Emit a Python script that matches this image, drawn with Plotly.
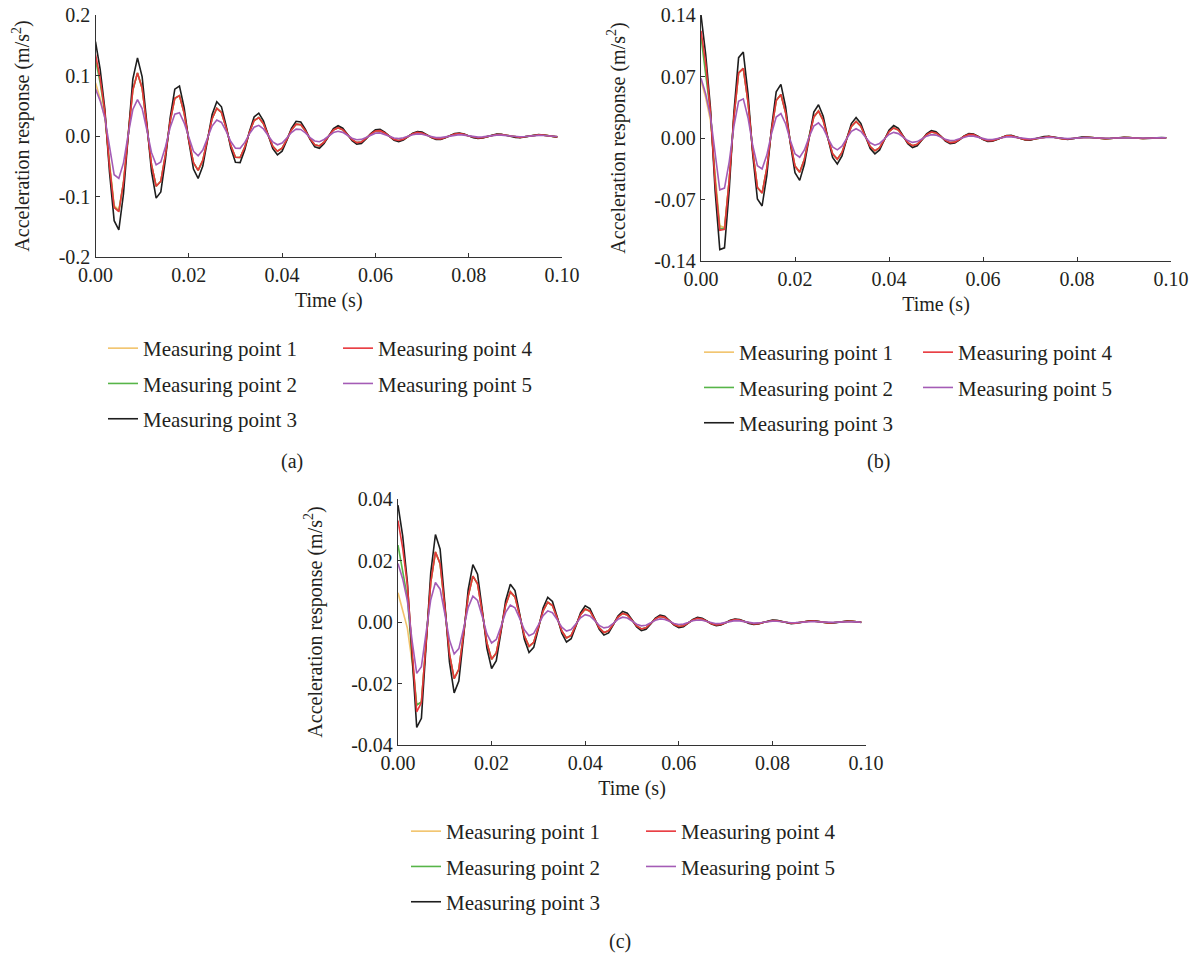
import plotly.graph_objects as go

# ---------------- data ----------------
time_s = [k / 1000 for k in range(100)]  # sampling grid, 1 ms

series_names = ["Measuring point 1", "Measuring point 2", "Measuring point 3",
                "Measuring point 4", "Measuring point 5"]
series_colors = ["#f2c36b", "#57b548", "#1e1e1e", "#e8363b", "#a45cb6"]

# ---- panel (a) ----
a_mp1 = [0.088, 0.062, 0.030, -0.045, -0.115, -0.122, -0.0772, 0.0041, 0.0761, 0.1043,
         0.0790, 0.0173, -0.0473, -0.0830, -0.0748, -0.0308, 0.0243, 0.0625, 0.0668, 0.0380,
         -0.0068, -0.0442, -0.0567, -0.0403, -0.0057, 0.0286, 0.0458, 0.0390, 0.0138, -0.0159,
         -0.0351, -0.0355, -0.0184, 0.0061, 0.0255, 0.0306, 0.0203, 0.0010, -0.0170, -0.0251,
         -0.0202, -0.0059, 0.0101, 0.0196, 0.0187, 0.0088, -0.0046, -0.0145, -0.0164, -0.0101,
         0.0005, 0.0100, 0.0137, 0.0104, 0.0023, -0.0062, -0.0109, -0.0098, -0.0040, 0.0032,
         0.0082, 0.0088, 0.0050, -0.0009, -0.0058, -0.0075, -0.0053, -0.0008, 0.0038, 0.0060,
         0.0051, 0.0018, -0.0021, -0.0046, -0.0047, -0.0024, 0.0008, 0.0033, 0.0040, 0.0027,
         0.0001, -0.0022, -0.0033, -0.0027, -0.0008, 0.0013, 0.0026, 0.0025, 0.0012, -0.0006,
         -0.0019, -0.0022, -0.0013, 0.0001, 0.0013, 0.0018, 0.0014, 0.0003, -0.0008, -0.0014]
a_mp2 = [0.126, 0.088, 0.038, -0.048, -0.118, -0.124, -0.0772, 0.0041, 0.0761, 0.1043,
         0.0790, 0.0173, -0.0473, -0.0830, -0.0748, -0.0308, 0.0243, 0.0625, 0.0668, 0.0380,
         -0.0068, -0.0442, -0.0567, -0.0403, -0.0057, 0.0286, 0.0458, 0.0390, 0.0138, -0.0159,
         -0.0351, -0.0355, -0.0184, 0.0061, 0.0255, 0.0306, 0.0203, 0.0010, -0.0170, -0.0251,
         -0.0202, -0.0059, 0.0101, 0.0196, 0.0187, 0.0088, -0.0046, -0.0145, -0.0164, -0.0101,
         0.0005, 0.0100, 0.0137, 0.0104, 0.0023, -0.0062, -0.0109, -0.0098, -0.0040, 0.0032,
         0.0082, 0.0088, 0.0050, -0.0009, -0.0058, -0.0075, -0.0053, -0.0008, 0.0038, 0.0060,
         0.0051, 0.0018, -0.0021, -0.0046, -0.0047, -0.0024, 0.0008, 0.0033, 0.0040, 0.0027,
         0.0001, -0.0022, -0.0033, -0.0027, -0.0008, 0.0013, 0.0026, 0.0025, 0.0012, -0.0006,
         -0.0019, -0.0022, -0.0013, 0.0001, 0.0013, 0.0018, 0.0014, 0.0003, -0.0008, -0.0014]
a_mp3 = [0.156, 0.110, 0.045, -0.060, -0.140, -0.155, -0.0955, 0.0051, 0.0942, 0.1291,
         0.0978, 0.0214, -0.0585, -0.1027, -0.0925, -0.0381, 0.0301, 0.0774, 0.0826, 0.0470,
         -0.0084, -0.0547, -0.0701, -0.0498, -0.0070, 0.0354, 0.0567, 0.0483, 0.0171, -0.0197,
         -0.0435, -0.0439, -0.0228, 0.0075, 0.0315, 0.0378, 0.0251, 0.0013, -0.0210, -0.0311,
         -0.0250, -0.0072, 0.0125, 0.0243, 0.0232, 0.0108, -0.0057, -0.0180, -0.0203, -0.0126,
         0.0007, 0.0124, 0.0170, 0.0129, 0.0028, -0.0077, -0.0135, -0.0122, -0.0050, 0.0040,
         0.0102, 0.0109, 0.0062, -0.0011, -0.0072, -0.0092, -0.0066, -0.0009, 0.0047, 0.0075,
         0.0064, 0.0022, -0.0026, -0.0057, -0.0058, -0.0030, 0.0010, 0.0041, 0.0050, 0.0033,
         0.0002, -0.0028, -0.0041, -0.0033, -0.0010, 0.0016, 0.0032, 0.0030, 0.0014, -0.0008,
         -0.0024, -0.0027, -0.0016, 0.0001, 0.0016, 0.0022, 0.0017, 0.0004, -0.0010, -0.0018]
a_mp4 = [0.135, 0.095, 0.040, -0.050, -0.118, -0.125, -0.0772, 0.0041, 0.0761, 0.1043,
         0.0790, 0.0173, -0.0473, -0.0830, -0.0748, -0.0308, 0.0243, 0.0625, 0.0668, 0.0380,
         -0.0068, -0.0442, -0.0567, -0.0403, -0.0057, 0.0286, 0.0458, 0.0390, 0.0138, -0.0159,
         -0.0351, -0.0355, -0.0184, 0.0061, 0.0255, 0.0306, 0.0203, 0.0010, -0.0170, -0.0251,
         -0.0202, -0.0059, 0.0101, 0.0196, 0.0187, 0.0088, -0.0046, -0.0145, -0.0164, -0.0101,
         0.0005, 0.0100, 0.0137, 0.0104, 0.0023, -0.0062, -0.0109, -0.0098, -0.0040, 0.0032,
         0.0082, 0.0088, 0.0050, -0.0009, -0.0058, -0.0075, -0.0053, -0.0008, 0.0038, 0.0060,
         0.0051, 0.0018, -0.0021, -0.0046, -0.0047, -0.0024, 0.0008, 0.0033, 0.0040, 0.0027,
         0.0001, -0.0022, -0.0033, -0.0027, -0.0008, 0.0013, 0.0026, 0.0025, 0.0012, -0.0006,
         -0.0019, -0.0022, -0.0013, 0.0001, 0.0013, 0.0018, 0.0014, 0.0003, -0.0008, -0.0014]
a_mp5 = [0.078, 0.058, 0.030, -0.018, -0.064, -0.070, -0.0444, 0.0024, 0.0438, 0.0600,
         0.0454, 0.0100, -0.0272, -0.0477, -0.0430, -0.0177, 0.0140, 0.0360, 0.0384, 0.0218,
         -0.0039, -0.0254, -0.0326, -0.0232, -0.0033, 0.0164, 0.0263, 0.0224, 0.0079, -0.0092,
         -0.0202, -0.0204, -0.0106, 0.0035, 0.0146, 0.0176, 0.0117, 0.0006, -0.0098, -0.0145,
         -0.0116, -0.0034, 0.0058, 0.0113, 0.0108, 0.0050, -0.0027, -0.0083, -0.0094, -0.0058,
         0.0003, 0.0058, 0.0079, 0.0060, 0.0013, -0.0036, -0.0063, -0.0056, -0.0023, 0.0018,
         0.0047, 0.0051, 0.0029, -0.0005, -0.0033, -0.0043, -0.0030, -0.0004, 0.0022, 0.0035,
         0.0030, 0.0010, -0.0012, -0.0027, -0.0027, -0.0014, 0.0005, 0.0019, 0.0023, 0.0015,
         0.0001, -0.0013, -0.0019, -0.0015, -0.0004, 0.0008, 0.0015, 0.0014, 0.0007, -0.0003,
         -0.0011, -0.0012, -0.0008, 0.0000, 0.0008, 0.0010, 0.0008, 0.0002, -0.0005, -0.0008]

# ---- panel (b) ----
b_mp1 = [0.065, 0.046, 0.020, -0.045, -0.100, -0.102, -0.0482, 0.0234, 0.0742, 0.0792,
         0.0411, -0.0148, -0.0563, -0.0627, -0.0347, 0.0088, 0.0426, 0.0495, 0.0290, -0.0047,
         -0.0320, -0.0390, -0.0242, 0.0020, 0.0240, 0.0307, 0.0200, -0.0002, -0.0179, -0.0240,
         -0.0165, -0.0009, 0.0133, 0.0188, 0.0135, 0.0016, -0.0098, -0.0146, -0.0110, -0.0019,
         0.0072, 0.0114, 0.0090, 0.0020, -0.0052, -0.0088, -0.0072, -0.0019, 0.0038, 0.0068,
         0.0058, 0.0018, -0.0027, -0.0053, -0.0047, -0.0017, 0.0019, 0.0041, 0.0038, 0.0015,
         -0.0013, -0.0031, -0.0030, -0.0013, 0.0009, 0.0024, 0.0024, 0.0011, -0.0006, -0.0018,
         -0.0019, -0.0010, 0.0004, 0.0014, 0.0015, 0.0008, -0.0002, -0.0010, -0.0012, -0.0007,
         0.0001, 0.0008, 0.0009, 0.0006, -0.0001, -0.0006, -0.0007, -0.0005, 0.0000, 0.0005,
         0.0006, 0.0004, 0.0000, -0.0003, -0.0005, -0.0003, 0.0000, 0.0002, 0.0004, 0.0003]
b_mp2 = [0.115, 0.075, 0.030, -0.048, -0.103, -0.103, -0.0482, 0.0234, 0.0742, 0.0792,
         0.0411, -0.0148, -0.0563, -0.0627, -0.0347, 0.0088, 0.0426, 0.0495, 0.0290, -0.0047,
         -0.0320, -0.0390, -0.0242, 0.0020, 0.0240, 0.0307, 0.0200, -0.0002, -0.0179, -0.0240,
         -0.0165, -0.0009, 0.0133, 0.0188, 0.0135, 0.0016, -0.0098, -0.0146, -0.0110, -0.0019,
         0.0072, 0.0114, 0.0090, 0.0020, -0.0052, -0.0088, -0.0072, -0.0019, 0.0038, 0.0068,
         0.0058, 0.0018, -0.0027, -0.0053, -0.0047, -0.0017, 0.0019, 0.0041, 0.0038, 0.0015,
         -0.0013, -0.0031, -0.0030, -0.0013, 0.0009, 0.0024, 0.0024, 0.0011, -0.0006, -0.0018,
         -0.0019, -0.0010, 0.0004, 0.0014, 0.0015, 0.0008, -0.0002, -0.0010, -0.0012, -0.0007,
         0.0001, 0.0008, 0.0009, 0.0006, -0.0001, -0.0006, -0.0007, -0.0005, 0.0000, 0.0005,
         0.0006, 0.0004, 0.0000, -0.0003, -0.0005, -0.0003, 0.0000, 0.0002, 0.0004, 0.0003]
b_mp3 = [0.140, 0.095, 0.035, -0.060, -0.127, -0.125, -0.0595, 0.0289, 0.0915, 0.0978,
         0.0507, -0.0183, -0.0694, -0.0774, -0.0428, 0.0109, 0.0525, 0.0611, 0.0358, -0.0058,
         -0.0395, -0.0482, -0.0299, 0.0024, 0.0296, 0.0378, 0.0247, -0.0002, -0.0222, -0.0296,
         -0.0203, -0.0011, 0.0164, 0.0232, 0.0167, 0.0019, -0.0121, -0.0181, -0.0136, -0.0023,
         0.0089, 0.0141, 0.0110, 0.0025, -0.0065, -0.0109, -0.0089, -0.0024, 0.0047, 0.0084,
         0.0072, 0.0022, -0.0034, -0.0065, -0.0058, -0.0021, 0.0024, 0.0050, 0.0046, 0.0018,
         -0.0017, -0.0038, -0.0037, -0.0016, 0.0011, 0.0029, 0.0030, 0.0014, -0.0007, -0.0022,
         -0.0024, -0.0012, 0.0005, 0.0017, 0.0019, 0.0010, -0.0003, -0.0013, -0.0015, -0.0009,
         0.0002, 0.0010, 0.0012, 0.0007, -0.0001, -0.0007, -0.0009, -0.0006, 0.0000, 0.0006,
         0.0007, 0.0005, 0.0000, -0.0004, -0.0006, -0.0004, 0.0000, 0.0003, 0.0004, 0.0003]
b_mp4 = [0.122, 0.085, 0.030, -0.050, -0.105, -0.104, -0.0482, 0.0234, 0.0742, 0.0792,
         0.0411, -0.0148, -0.0563, -0.0627, -0.0347, 0.0088, 0.0426, 0.0495, 0.0290, -0.0047,
         -0.0320, -0.0390, -0.0242, 0.0020, 0.0240, 0.0307, 0.0200, -0.0002, -0.0179, -0.0240,
         -0.0165, -0.0009, 0.0133, 0.0188, 0.0135, 0.0016, -0.0098, -0.0146, -0.0110, -0.0019,
         0.0072, 0.0114, 0.0090, 0.0020, -0.0052, -0.0088, -0.0072, -0.0019, 0.0038, 0.0068,
         0.0058, 0.0018, -0.0027, -0.0053, -0.0047, -0.0017, 0.0019, 0.0041, 0.0038, 0.0015,
         -0.0013, -0.0031, -0.0030, -0.0013, 0.0009, 0.0024, 0.0024, 0.0011, -0.0006, -0.0018,
         -0.0019, -0.0010, 0.0004, 0.0014, 0.0015, 0.0008, -0.0002, -0.0010, -0.0012, -0.0007,
         0.0001, 0.0008, 0.0009, 0.0006, -0.0001, -0.0006, -0.0007, -0.0005, 0.0000, 0.0005,
         0.0006, 0.0004, 0.0000, -0.0003, -0.0005, -0.0003, 0.0000, 0.0002, 0.0004, 0.0003]
b_mp5 = [0.068, 0.050, 0.025, -0.020, -0.059, -0.057, -0.0271, 0.0132, 0.0417, 0.0445,
         0.0231, -0.0083, -0.0316, -0.0352, -0.0195, 0.0049, 0.0239, 0.0278, 0.0163, -0.0027,
         -0.0180, -0.0219, -0.0136, 0.0011, 0.0135, 0.0172, 0.0112, -0.0001, -0.0101, -0.0135,
         -0.0093, -0.0005, 0.0075, 0.0105, 0.0076, 0.0009, -0.0055, -0.0082, -0.0062, -0.0011,
         0.0041, 0.0064, 0.0050, 0.0011, -0.0029, -0.0050, -0.0041, -0.0011, 0.0021, 0.0038,
         0.0033, 0.0010, -0.0015, -0.0030, -0.0026, -0.0009, 0.0011, 0.0023, 0.0021, 0.0008,
         -0.0008, -0.0018, -0.0017, -0.0007, 0.0005, 0.0013, 0.0013, 0.0006, -0.0003, -0.0010,
         -0.0011, -0.0005, 0.0002, 0.0008, 0.0008, 0.0005, -0.0001, -0.0006, -0.0007, -0.0004,
         0.0001, 0.0004, 0.0005, 0.0003, 0.0000, -0.0003, -0.0004, -0.0003, 0.0000, 0.0003,
         0.0003, 0.0002, 0.0000, -0.0002, -0.0003, -0.0002, 0.0000, 0.0001, 0.0002, 0.0002]

# ---- panel (c) ----
c_mp1 = [0.0095, 0.004, -0.002, -0.013, -0.027, -0.026, -0.00607, 0.01289, 0.02277, 0.01896,
         0.00491, -0.01044, -0.01844, -0.01536, -0.00398, 0.00846, 0.01494, 0.01244, 0.00322, -0.00685,
         -0.01210, -0.01008, -0.00261, 0.00555, 0.00980, 0.00816, 0.00212, -0.00449, -0.00794, -0.00661,
         -0.00171, 0.00364, 0.00643, 0.00536, 0.00139, -0.00295, -0.00521, -0.00434, -0.00112, 0.00239,
         0.00422, 0.00351, 0.00091, -0.00193, -0.00342, -0.00285, -0.00074, 0.00157, 0.00277, 0.00231,
         0.00060, -0.00127, -0.00225, -0.00187, -0.00049, 0.00103, 0.00182, 0.00151, 0.00039, -0.00084,
         -0.00147, -0.00123, -0.00032, 0.00067, 0.00119, 0.00099, 0.00026, -0.00055, -0.00097, -0.00080,
         -0.00021, 0.00044, 0.00079, 0.00065, 0.00017, -0.00036, -0.00064, -0.00053, -0.00014, 0.00029,
         0.00051, 0.00043, 0.00011, -0.00024, -0.00042, -0.00035, -0.00009, 0.00019, 0.00034, 0.00028,
         0.00007, -0.00015, -0.00027, -0.00023, -0.00006, 0.00012, 0.00022, 0.00019, 0.00005, -0.00010]
c_mp2 = [0.025, 0.017, 0.008, -0.011, -0.027, -0.026, -0.00607, 0.01289, 0.02277, 0.01896,
         0.00491, -0.01044, -0.01844, -0.01536, -0.00398, 0.00846, 0.01494, 0.01244, 0.00322, -0.00685,
         -0.01210, -0.01008, -0.00261, 0.00555, 0.00980, 0.00816, 0.00212, -0.00449, -0.00794, -0.00661,
         -0.00171, 0.00364, 0.00643, 0.00536, 0.00139, -0.00295, -0.00521, -0.00434, -0.00112, 0.00239,
         0.00422, 0.00351, 0.00091, -0.00193, -0.00342, -0.00285, -0.00074, 0.00157, 0.00277, 0.00231,
         0.00060, -0.00127, -0.00225, -0.00187, -0.00049, 0.00103, 0.00182, 0.00151, 0.00039, -0.00084,
         -0.00147, -0.00123, -0.00032, 0.00067, 0.00119, 0.00099, 0.00026, -0.00055, -0.00097, -0.00080,
         -0.00021, 0.00044, 0.00079, 0.00065, 0.00017, -0.00036, -0.00064, -0.00053, -0.00014, 0.00029,
         0.00051, 0.00043, 0.00011, -0.00024, -0.00042, -0.00035, -0.00009, 0.00019, 0.00034, 0.00028,
         0.00007, -0.00015, -0.00027, -0.00023, -0.00006, 0.00012, 0.00022, 0.00019, 0.00005, -0.00010]
c_mp3 = [0.038, 0.028, 0.013, -0.012, -0.0343, -0.0313, -0.00758, 0.01610, 0.02845, 0.02368,
         0.00614, -0.01305, -0.02304, -0.01919, -0.00497, 0.01057, 0.01867, 0.01554, 0.00403, -0.00856,
         -0.01512, -0.01259, -0.00326, 0.00694, 0.01225, 0.01020, 0.00264, -0.00562, -0.00992, -0.00826,
         -0.00214, 0.00455, 0.00804, 0.00669, 0.00173, -0.00368, -0.00651, -0.00542, -0.00140, 0.00298,
         0.00528, 0.00439, 0.00114, -0.00242, -0.00427, -0.00356, -0.00092, 0.00196, 0.00346, 0.00288,
         0.00075, -0.00159, -0.00281, -0.00234, -0.00061, 0.00128, 0.00227, 0.00189, 0.00049, -0.00104,
         -0.00184, -0.00153, -0.00040, 0.00084, 0.00149, 0.00124, 0.00032, -0.00068, -0.00121, -0.00100,
         -0.00026, 0.00055, 0.00098, 0.00082, 0.00021, -0.00045, -0.00079, -0.00066, -0.00017, 0.00036,
         0.00064, 0.00054, 0.00014, -0.00029, -0.00052, -0.00043, -0.00011, 0.00024, 0.00042, 0.00035,
         0.00009, -0.00019, -0.00034, -0.00029, -0.00008, 0.00016, 0.00028, 0.00023, 0.00006, -0.00013]
c_mp4 = [0.033, 0.024, 0.012, -0.010, -0.0292, -0.0262, -0.00607, 0.01289, 0.02277, 0.01896,
         0.00491, -0.01044, -0.01844, -0.01536, -0.00398, 0.00846, 0.01494, 0.01244, 0.00322, -0.00685,
         -0.01210, -0.01008, -0.00261, 0.00555, 0.00980, 0.00816, 0.00212, -0.00449, -0.00794, -0.00661,
         -0.00171, 0.00364, 0.00643, 0.00536, 0.00139, -0.00295, -0.00521, -0.00434, -0.00112, 0.00239,
         0.00422, 0.00351, 0.00091, -0.00193, -0.00342, -0.00285, -0.00074, 0.00157, 0.00277, 0.00231,
         0.00060, -0.00127, -0.00225, -0.00187, -0.00049, 0.00103, 0.00182, 0.00151, 0.00039, -0.00084,
         -0.00147, -0.00123, -0.00032, 0.00067, 0.00119, 0.00099, 0.00026, -0.00055, -0.00097, -0.00080,
         -0.00021, 0.00044, 0.00079, 0.00065, 0.00017, -0.00036, -0.00064, -0.00053, -0.00014, 0.00029,
         0.00051, 0.00043, 0.00011, -0.00024, -0.00042, -0.00035, -0.00009, 0.00019, 0.00034, 0.00028,
         0.00007, -0.00015, -0.00027, -0.00023, -0.00006, 0.00012, 0.00022, 0.00019, 0.00005, -0.00010]
c_mp5 = [0.019, 0.014, 0.007, -0.006, -0.0167, -0.0145, -0.00341, 0.00726, 0.01282, 0.01067,
         0.00277, -0.00588, -0.01038, -0.00865, -0.00224, 0.00476, 0.00841, 0.00700, 0.00182, -0.00386,
         -0.00681, -0.00567, -0.00147, 0.00313, 0.00552, 0.00459, 0.00119, -0.00253, -0.00447, -0.00372,
         -0.00096, 0.00205, 0.00362, 0.00302, 0.00078, -0.00166, -0.00293, -0.00244, -0.00063, 0.00134,
         0.00238, 0.00198, 0.00051, -0.00109, -0.00192, -0.00160, -0.00042, 0.00088, 0.00156, 0.00130,
         0.00034, -0.00072, -0.00126, -0.00105, -0.00027, 0.00058, 0.00102, 0.00085, 0.00022, -0.00047,
         -0.00083, -0.00069, -0.00018, 0.00038, 0.00067, 0.00056, 0.00014, -0.00031, -0.00054, -0.00045,
         -0.00012, 0.00025, 0.00044, 0.00037, 0.00009, -0.00020, -0.00036, -0.00030, -0.00008, 0.00016,
         0.00029, 0.00024, 0.00006, -0.00013, -0.00024, -0.00019, -0.00005, 0.00011, 0.00019, 0.00016,
         0.00004, -0.00009, -0.00015, -0.00013, -0.00003, 0.00007, 0.00012, 0.00010, 0.00003, -0.00006]

# tick labels
x_tickvals = [0.0, 0.02, 0.04, 0.06, 0.08, 0.10]
x_ticktext = ["0.00", "0.02", "0.04", "0.06", "0.08", "0.10"]
a_y_tickvals = [-0.2, -0.1, 0.0, 0.1, 0.2]
a_y_ticktext = ["-0.2", "-0.1", "0.0", "0.1", "0.2"]
b_y_tickvals = [-0.14, -0.07, 0.0, 0.07, 0.14]
b_y_ticktext = ["-0.14", "-0.07", "0.00", "0.07", "0.14"]
c_y_tickvals = [-0.04, -0.02, 0.0, 0.02, 0.04]
c_y_ticktext = ["-0.04", "-0.02", "0.00", "0.02", "0.04"]
panel_labels = ["(a)", "(b)", "(c)"]
x_title = "Time (s)"
y_title = "Acceleration response (m/s<sup>2</sup>)"

# ---------------- figure ----------------
W, H = 1196, 960
FONT = "Liberation Serif"
TXT = "#231f20"
FS = 20       # axis text size
FS_LEG = 21   # legend text size

def px_x(p):
    return p / W

def px_y(p):
    return 1 - p / H

panels = [
    dict(data=[a_mp1, a_mp2, a_mp3, a_mp4, a_mp5], ax="", x0=95.5, x1=562, y0=15, y1=257,
         yr=[-0.2, 0.2], tv=a_y_tickvals, tt=a_y_ticktext, leg=("legend", "legend2"),
         legx=(103, 338), legy=328, lab=(292, 462)),
    dict(data=[b_mp1, b_mp2, b_mp3, b_mp4, b_mp5], ax="2", x0=701, x1=1171, y0=15, y1=261,
         yr=[-0.14, 0.14], tv=b_y_tickvals, tt=b_y_ticktext, leg=("legend3", "legend4"),
         legx=(699, 918), legy=332, lab=(878, 462)),
    dict(data=[c_mp1, c_mp2, c_mp3, c_mp4, c_mp5], ax="3", x0=398, x1=866, y0=499, y1=745,
         yr=[-0.04, 0.04], tv=c_y_tickvals, tt=c_y_ticktext, leg=("legend5", "legend6"),
         legx=(406, 641), legy=811, lab=(620, 941)),
]

fig = go.Figure()
layout = dict(width=W, height=H,
              margin=dict(l=0, r=0, t=0, b=0, autoexpand=False),
              paper_bgcolor="white", plot_bgcolor="white",
              font=dict(family=FONT, size=FS, color=TXT), showlegend=True)

annotations = []
for pi, p in enumerate(panels):
    ax = p["ax"]
    for si in range(5):
        fig.add_trace(go.Scatter(
            x=time_s, y=p["data"][si], mode="lines", name=series_names[si],
            line=dict(color=series_colors[si], width=1.6),
            xaxis="x" + ax, yaxis="y" + ax,
            legend=p["leg"][0] if si < 3 else p["leg"][1],
            legendgroup=f"p{pi}s{si}",
        ))
    axis_common = dict(showline=True, linecolor="#333333", linewidth=1.3,
                       ticks="inside", ticklen=4, tickwidth=1, tickcolor="#333333",
                       showgrid=False, zeroline=False, automargin=False,
                       tickfont=dict(family=FONT, size=FS, color=TXT))
    layout["xaxis" + ax] = dict(axis_common, domain=[px_x(p["x0"]), px_x(p["x1"])],
                                range=[0, 0.1], tickvals=x_tickvals, ticktext=x_ticktext,
                                anchor="y" + ax,
                                title=dict(text=x_title, standoff=7,
                                           font=dict(family=FONT, size=FS, color=TXT)))
    layout["yaxis" + ax] = dict(axis_common, domain=[px_y(p["y1"]), px_y(p["y0"])],
                                range=p["yr"], tickvals=p["tv"], ticktext=p["tt"],
                                anchor="x" + ax,
                                title=dict(text=y_title, standoff=23,
                                           font=dict(family=FONT, size=FS, color=TXT)))
    for li, lname in enumerate(p["leg"]):
        layout[lname] = dict(x=px_x(p["legx"][li]), y=px_y(p["legy"]),
                             xanchor="left", yanchor="top", orientation="v",
                             bgcolor="rgba(0,0,0,0)", borderwidth=0,
                             tracegroupgap=5, itemwidth=30,
                             font=dict(family=FONT, size=FS_LEG, color=TXT))
    annotations.append(dict(text=panel_labels[pi], x=px_x(p["lab"][0]), y=px_y(p["lab"][1]),
                            xref="paper", yref="paper", showarrow=False,
                            xanchor="center", yanchor="middle",
                            font=dict(family=FONT, size=FS, color=TXT)))

layout["annotations"] = annotations
fig.update_layout(**layout)
fig.write_html("out.html", config={"displayModeBar": False},
               post_script="document.body.style.margin='0';")
